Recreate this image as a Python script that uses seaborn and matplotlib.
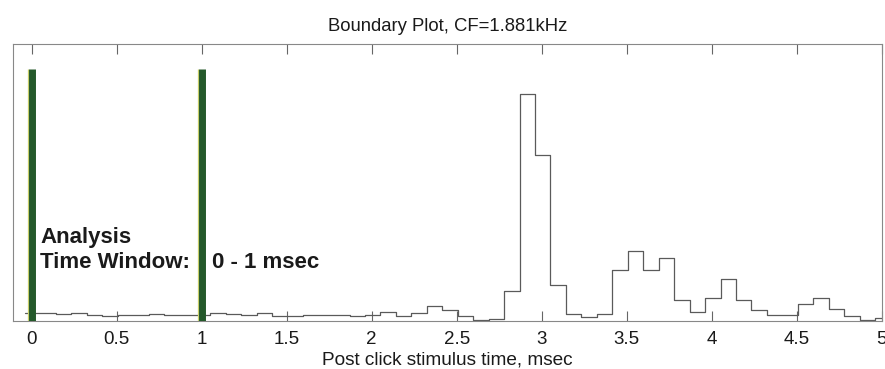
import numpy as np
import pandas as pd
import matplotlib
matplotlib.use("Agg")
import matplotlib.pyplot as plt
import seaborn as sns

# Post-stimulus time histogram (counts per bin), bins of 1/11 msec
bin_start = -0.039
bin_width = 1 / 11
counts = [8, 8, 7, 7.5, 6, 5, 6, 5.5, 7, 6,
          6, 6, 8, 7, 6, 8, 4.5, 5, 5.5, 6,
          6, 4.5, 6, 9, 5, 8, 15, 11, 5, 1,
          2.3, 30, 226, 165, 36, 7.3, 4.3, 7, 51, 70,
          51, 63, 21, 9, 23, 42, 21, 11, 5.7, 5.7,
          17, 23, 12, 5, 1, 2.7]

# Analysis window boundaries (msec)
window_bounds = [0, 1]
window_marker_height = 251

xtick_values = [0, 0.5, 1, 1.5, 2, 2.5, 3, 3.5, 4, 4.5, 5]
xtick_labels = ["0", "0.5", "1", "1.5", "2", "2.5", "3", "3.5", "4", "4.5", "5"]

edges = bin_start + bin_width * np.arange(len(counts) + 1)
centers = (edges[:-1] + edges[1:]) / 2
df = pd.DataFrame({"time": centers, "count": counts})

sns.set_theme(style="white")
plt.rcParams["font.family"] = ["Liberation Sans", "DejaVu Sans"]

fig = plt.figure(figsize=(8.85, 3.69), dpi=100)
ax = fig.add_axes([0.0147, 0.1301, 0.9816, 0.7507])

sns.histplot(data=df, x="time", weights="count", bins=edges.tolist(),
             element="step", fill=False, color="#5a5a5a", linewidth=0.9, ax=ax)

# analysis window boundaries, with a faint yellow fringe on their left edge
ax.vlines(window_bounds, 0, window_marker_height, colors="#24592b", linewidth=5.0, zorder=4)
ax.vlines([b - 0.022 for b in window_bounds], 0, window_marker_height,
          colors="#c9cf6a", linewidth=0.9, zorder=3)

txt = dict(fontsize=16, fontweight="bold", color="#1a1a1a", va="baseline")
ax.text(0.05, 78, "Analysis", **txt)
ax.text(0.05, 53, "Time Window:", **txt)
ax.text(1.06, 53, "0 - 1 msec", **txt)

ax.set_xlim(-0.109, 5.0)
ax.set_ylim(0, 276)
ax.set_xticks(xtick_values)
ax.set_xticklabels(xtick_labels)
ax.set_yticks([])
ax.tick_params(axis="x", direction="in", length=7, width=0.8, color="#666666",
               top=True, bottom=True, labelsize=13.5, pad=7, labelcolor="#1a1a1a")
for s in ax.spines.values():
    s.set_visible(True)
    s.set_color("#888888")
    s.set_linewidth(0.8)

ax.set_xlabel("Post click stimulus time, msec", fontsize=13.7, color="#1a1a1a", labelpad=3)
ax.set_ylabel("")
ax.set_title("Boundary Plot, CF=1.881kHz", fontsize=13.3, color="#1a1a1a", pad=9)

fig.savefig("out.png", dpi=100)
